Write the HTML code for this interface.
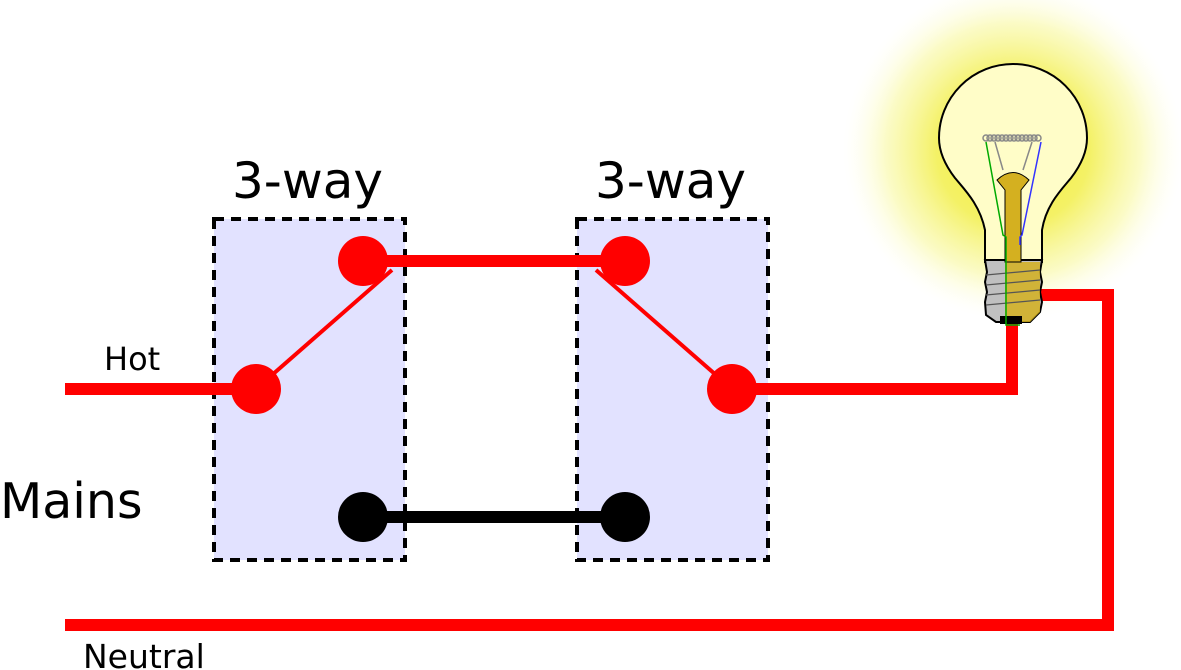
<!DOCTYPE html>
<html><head><meta charset="utf-8"><style>
html,body{margin:0;padding:0;background:#fff}
svg{display:block}
text{font-family:"DejaVu Sans","Liberation Sans",sans-serif;fill:#000}
</style></head><body>
<svg width="1181" height="670" viewBox="0 0 1181 670" xmlns="http://www.w3.org/2000/svg">
<defs>
<radialGradient id="glow" cx="1013" cy="150" r="170" gradientUnits="userSpaceOnUse">
<stop offset="0" stop-color="#f2f030"/>
<stop offset="0.45" stop-color="#f4f166"/>
<stop offset="0.75" stop-color="#fafab8" stop-opacity="0.8"/>
<stop offset="1" stop-color="#ffffee" stop-opacity="0"/>
</radialGradient>
</defs>
<circle cx="1013" cy="150" r="170" fill="url(#glow)"/>
<!-- boxes -->
<rect x="214" y="219" width="191" height="341" fill="#e2e2ff" stroke="#000" stroke-width="4" stroke-dasharray="10,7"/>
<rect x="577" y="219" width="191" height="341" fill="#e2e2ff" stroke="#000" stroke-width="4" stroke-dasharray="10,7"/>
<!-- wires -->
<g stroke="#f00" stroke-width="12" fill="none">
<line x1="65" y1="389" x2="256" y2="389"/>
<line x1="363" y1="261" x2="625" y2="261"/>
<polyline points="732,389 1012,389 1012,322"/>
<polyline points="65,625 1108,625 1108,295 1040,295"/>
</g>
<line x1="363" y1="517" x2="625" y2="517" stroke="#000" stroke-width="12"/>
<g stroke="#f00" stroke-width="4">
<line x1="256" y1="389" x2="392" y2="270"/>
<line x1="596" y1="270" x2="732" y2="389"/>
</g>
<g fill="#f00">
<circle cx="256" cy="389" r="25"/><circle cx="363" cy="261" r="25"/>
<circle cx="625" cy="261" r="25"/><circle cx="732" cy="389" r="25"/>
</g>
<circle cx="363" cy="517" r="25" fill="#000"/><circle cx="625" cy="517" r="25" fill="#000"/>
<!-- bulb -->
<path d="M985,262 L985,230 C980,205 965,190 955,178 C945,165 939,152 939,138 A74,74 0 0 1 1087,138 C1087,152 1081,165 1071,178 C1061,190 1046,205 1042,230 L1042,262 Z" fill="#fffdc8" stroke="#000" stroke-width="2"/>
<path d="M985,260 L1042,260 L1040,272 L1042,282 L1040,292 L1042,302 L1040,312 L1030,322 L996,322 L986,315 L985,302 L987,292 L985,282 L987,272 Z" fill="#c0c0c0" stroke="#000" stroke-width="2"/>
<path d="M1005,262 L1005,322 L1030,322 L1040,312 L1040,262 Z" fill="#d4b020" opacity="0.85"/>
<g stroke="#555" stroke-width="1.2" fill="none">
<line x1="986" y1="275" x2="1040" y2="270"/><line x1="986" y1="285" x2="1040" y2="280"/>
<line x1="986" y1="295" x2="1040" y2="290"/><line x1="986" y1="305" x2="1040" y2="300"/>
</g>
<rect x="1000" y="316" width="22" height="8" fill="#000"/>
<path d="M1005,262 L1005,190 L997,180 Q1013,165 1029,180 L1021,190 L1021,262 Z" fill="#d4b020" stroke="#000" stroke-width="1"/>
<g stroke="#888" stroke-width="1.5" fill="none">
<g>
<circle cx="986" cy="138" r="3"/><circle cx="990" cy="138" r="3"/><circle cx="994" cy="138" r="3"/><circle cx="998" cy="138" r="3"/><circle cx="1002" cy="138" r="3"/><circle cx="1006" cy="138" r="3"/><circle cx="1010" cy="138" r="3"/><circle cx="1014" cy="138" r="3"/><circle cx="1018" cy="138" r="3"/><circle cx="1022" cy="138" r="3"/><circle cx="1026" cy="138" r="3"/><circle cx="1030" cy="138" r="3"/><circle cx="1034" cy="138" r="3"/><circle cx="1038" cy="138" r="3"/>
</g>
<line x1="995" y1="142" x2="1003" y2="170"/><line x1="1032" y1="142" x2="1023" y2="170"/>
</g>
<polyline points="986,142 1003,235 1006,237 1006,325 1020,325" stroke="#0a0" stroke-width="1.5" fill="none"/>
<polyline points="1041,142 1022,235 1020,237 1020,245 Q1020,280 1038,280" stroke="#33f" stroke-width="1.5" fill="none"/>
<!-- labels -->
<text x="232" y="198" font-size="50">3-way</text>
<text x="595" y="198" font-size="50">3-way</text>
<text x="104" y="370" font-size="32">Hot</text>
<text x="0" y="518" font-size="49">Mains</text>
<text x="83" y="668" font-size="33">Neutral</text>
</svg>
</body></html>
